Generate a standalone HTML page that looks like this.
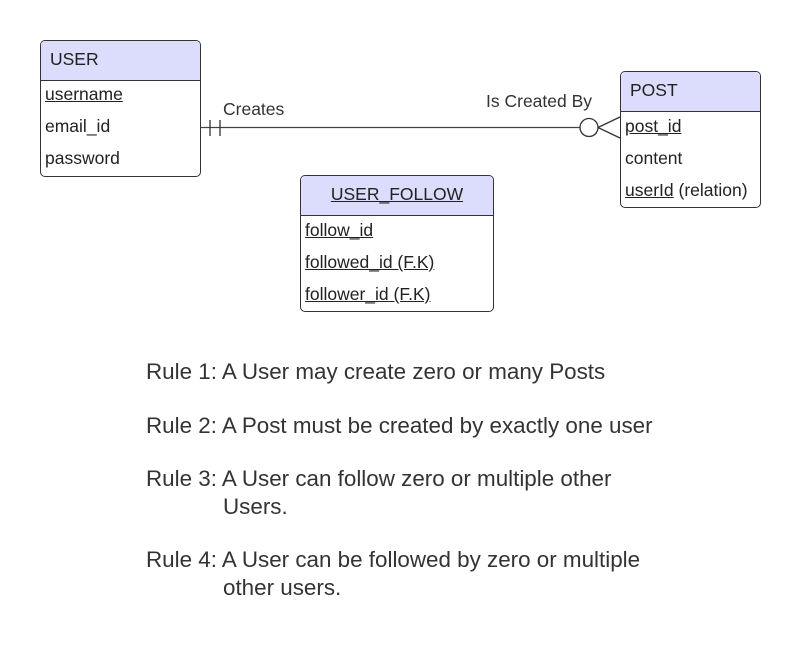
<!DOCTYPE html>
<html><head><style>
body{margin:0;background:#fff;width:800px;height:648px;position:relative;font-family:"Liberation Sans",sans-serif;color:#222;overflow:hidden}
.box{position:absolute;border:1px solid #333;border-radius:5px;overflow:hidden;background:#fff}
.hd{background:#dcdcfc;border-bottom:1px solid #333;height:39px;line-height:36px;padding-left:9px;font-size:17.5px}
.r{position:absolute;left:4px;font-size:17.5px}
u{text-decoration:underline}
.t{position:absolute;font-size:22.4px;color:#333}
</style></head><body>
<svg width="800" height="648" style="position:absolute;left:0;top:0">
<line x1="200" y1="127.5" x2="580" y2="127.5" stroke="#444" stroke-width="1.3"/>
<line x1="210" y1="120" x2="210" y2="136" stroke="#333" stroke-width="1.3"/>
<line x1="220" y1="120" x2="220" y2="136" stroke="#333" stroke-width="1.3"/>
<circle cx="589" cy="127.5" r="9" fill="#fff" stroke="#333" stroke-width="1.3"/>
<line x1="598" y1="127.5" x2="620" y2="117" stroke="#333" stroke-width="1.3"/>
<line x1="598" y1="127.5" x2="620" y2="138" stroke="#333" stroke-width="1.3"/>
</svg>
<div class="box" style="left:40px;top:40px;width:159px;height:135px">
<div class="hd">USER</div>
<div class="r" style="top:43px"><u>username</u></div>
<div class="r" style="top:75px">email_id</div>
<div class="r" style="top:107px">password</div>
</div>
<div class="box" style="left:620px;top:71px;width:139px;height:135px">
<div class="hd">POST</div>
<div class="r" style="top:44px"><u>post_id</u></div>
<div class="r" style="top:76px">content</div>
<div class="r" style="top:108px"><u>userId</u> (relation)</div>
</div>
<div class="box" style="left:300px;top:175px;width:192px;height:135px">
<div class="hd" style="padding-left:0;text-align:center"><u>USER_FOLLOW</u></div>
<div class="r" style="top:44px"><u>follow_id</u></div>
<div class="r" style="top:76px"><u>followed_id (F.K)</u></div>
<div class="r" style="top:108px"><u>follower_id (F.K)</u></div>
</div>
<div class="t" style="left:223px;top:99px;font-size:17.5px">Creates</div>
<div class="t" style="left:486px;top:91px;font-size:17.5px">Is Created By</div>
<div class="t" style="left:146px;top:359px">Rule 1: A User may create zero or many Posts</div>
<div class="t" style="left:146px;top:413px">Rule 2: A Post must be created by exactly one user</div>
<div class="t" style="left:146px;top:466px">Rule 3: A User can follow zero or multiple other</div>
<div class="t" style="left:223px;top:494px">Users.</div>
<div class="t" style="left:146px;top:547px">Rule 4: A User can be followed by zero or multiple</div>
<div class="t" style="left:223px;top:575px">other users.</div>
</body></html>
